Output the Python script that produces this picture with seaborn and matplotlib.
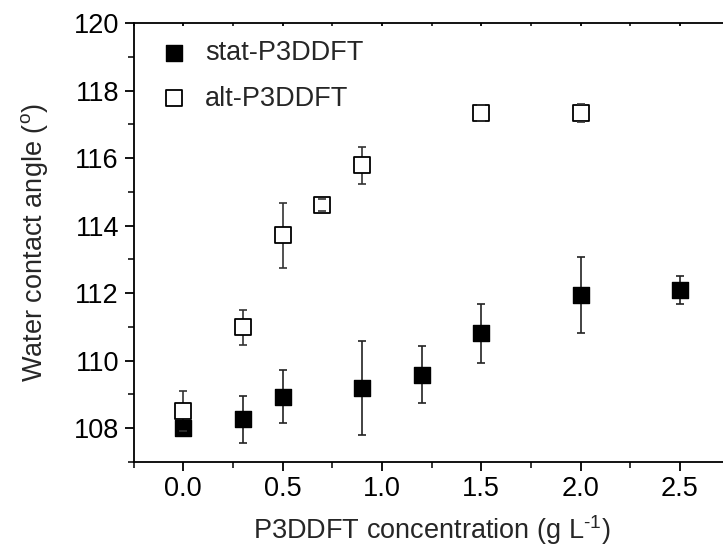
import matplotlib
matplotlib.use("Agg")
import matplotlib.pyplot as plt
import seaborn as sns
import pandas as pd
from matplotlib.ticker import MultipleLocator

# data
stat_x = [0.0, 0.3, 0.5, 0.9, 1.2, 1.5, 2.0, 2.5]
stat_y = [108.01, 108.26, 108.93, 109.19, 109.58, 110.81, 111.95, 112.09]
stat_err = [0.0, 0.70, 0.79, 1.39, 0.85, 0.88, 1.12, 0.42]

alt_x = [0.0, 0.3, 0.5, 0.7, 0.9, 1.5, 2.0]
alt_y = [108.5, 110.98, 113.71, 114.61, 115.79, 117.34, 117.34]
alt_err = [0.6, 0.53, 0.97, 0.18, 0.55, 0.24, 0.27]

series_names = ["stat-P3DDFT", "alt-P3DDFT"]
x_ticks = [0.0, 0.5, 1.0, 1.5, 2.0, 2.5]
y_ticks = [108, 110, 112, 114, 116, 118, 120]

sns.set_theme(style="ticks")
plt.rcParams['font.family'] = ['Liberation Sans', 'DejaVu Sans']
plt.rcParams['mathtext.fontset'] = 'custom'
plt.rcParams['mathtext.rm'] = 'Liberation Sans'
plt.rcParams['mathtext.it'] = 'Liberation Sans'

W, H = 723, 553
fig = plt.figure(figsize=(W / 100, H / 100), dpi=100)
left, right, top, bottom = 133.5, 729.5, 23.3, 461.7
ax = fig.add_axes([left / W, 1 - bottom / H, (right - left) / W, (bottom - top) / H])

df_stat = pd.DataFrame({"x": stat_x, "y": stat_y, "err": stat_err})
df_alt = pd.DataFrame({"x": alt_x, "y": alt_y, "err": alt_err})

eb1 = ax.errorbar(df_stat.x, df_stat.y, yerr=df_stat.err, fmt='none', ecolor='#222222',
                  elinewidth=1.2, capsize=3.2, capthick=1.2, zorder=2)
eb2 = ax.errorbar(df_alt.x, df_alt.y, yerr=df_alt.err, fmt='none', ecolor='#333333',
                  elinewidth=1.2, capsize=3.2, capthick=1.2, zorder=2)
for cl in eb2[1]:
    cl.set_zorder(5)

sns.scatterplot(data=df_stat, x="x", y="y", marker='s', s=135, color='black',
                edgecolor='black', linewidth=1.0, ax=ax, zorder=4, label=series_names[0])
sns.scatterplot(data=df_alt, x="x", y="y", marker='s', s=125, color='white',
                edgecolor='black', linewidth=1.3, ax=ax, zorder=3, label=series_names[1])

ax.set_xlim(-0.25, 2.75)
ax.set_ylim(107, 120)
ax.set_xticks(x_ticks)
ax.set_xticklabels([f"{v:.1f}" for v in x_ticks])
ax.set_yticks(y_ticks)
ax.set_yticklabels([str(v) for v in y_ticks])
ax.xaxis.set_minor_locator(MultipleLocator(0.25))
ax.yaxis.set_minor_locator(MultipleLocator(1))

for s in ax.spines.values():
    s.set_linewidth(1.3)
    s.set_color('black')
ax.tick_params(axis='both', which='major', direction='out', length=6.5, width=1.3,
               labelsize=19.5, colors='black', pad=4)
ax.tick_params(axis='both', which='minor', direction='out', length=4.5, width=1.3)
ax.tick_params(axis='x', which='both', top=True, labeltop=False)

ax.set_xlabel("P3DDFT concentration (g L$^{\\text{-1}}$)", fontsize=19.5, labelpad=8)
ax.set_ylabel("Water contact angle ($^{\\mathrm{o}}$)", fontsize=19.5, labelpad=17)

# top ticks tiny and inward
for t in ax.xaxis.get_major_ticks() + ax.xaxis.get_minor_ticks():
    t.tick2line.set_markersize(2)
    t.tick2line.set_marker(3)

fs = 19.5
fpx = fs * 100 / 72
hl = 1.2
hx = 174 - hl * fpx / 2
leg = ax.legend(loc='upper left',
                bbox_to_anchor=((hx - left) / (right - left), 1 - (40 - top) / (bottom - top)),
                frameon=False, fontsize=fs, borderaxespad=0, borderpad=0,
                handletextpad=(205 - hx - hl * fpx) / fpx, labelspacing=0.72,
                handlelength=hl, markerscale=1.0)

fig.savefig("out.png", dpi=100)
